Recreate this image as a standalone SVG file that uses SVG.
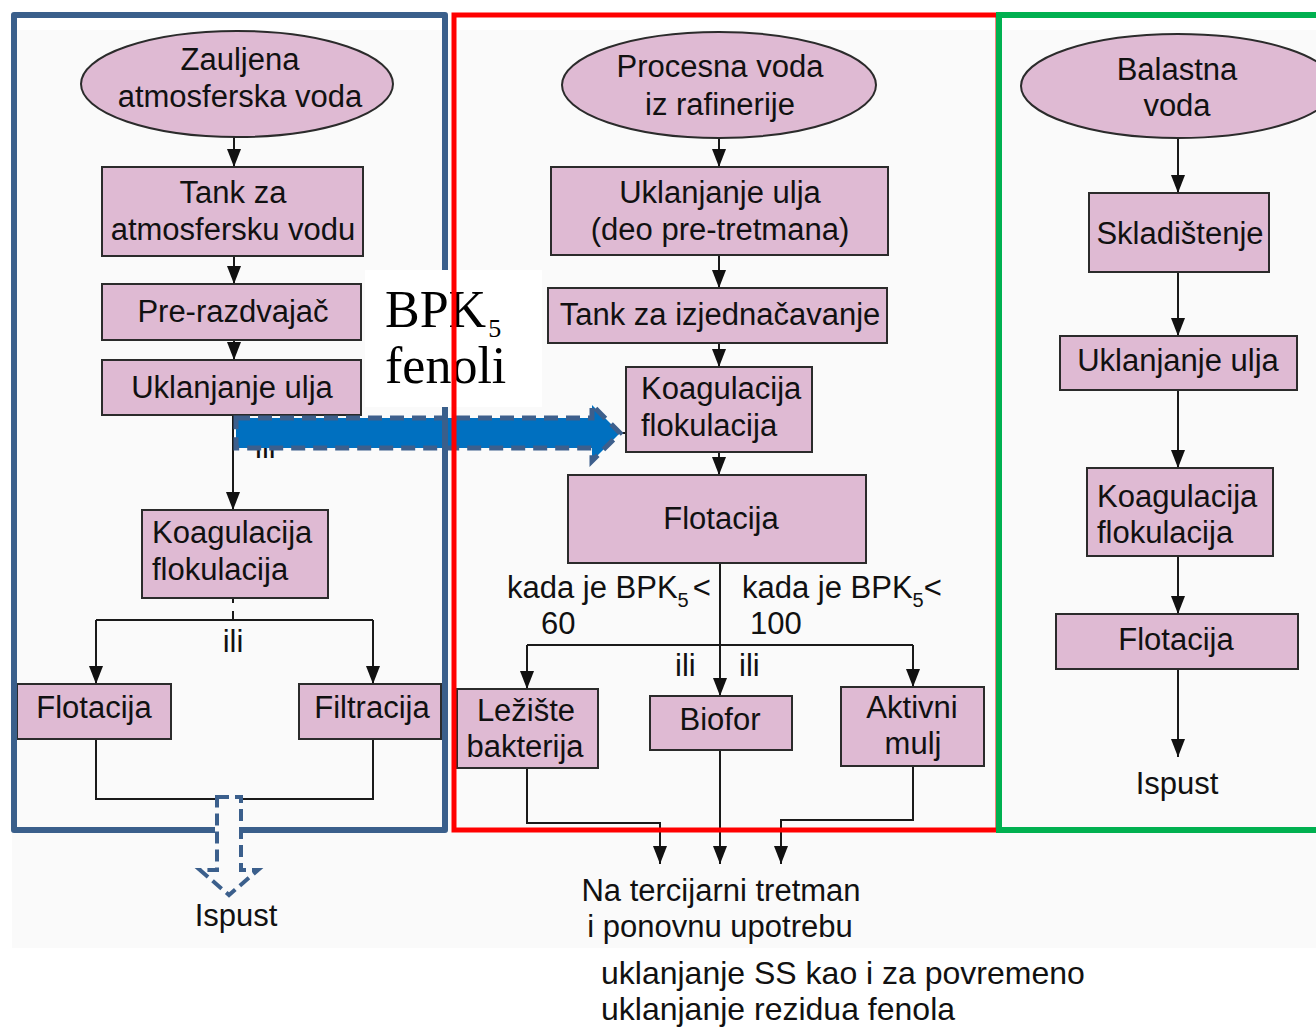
<svg xmlns="http://www.w3.org/2000/svg" width="1316" height="1029" viewBox="0 0 1316 1029">
  <defs>
    <marker id="arr" viewBox="0 0 18 14" markerWidth="18" markerHeight="14" refX="18" refY="7" orient="auto" markerUnits="userSpaceOnUse">
      <path d="M0,0 L18,7 L0,14 Z" fill="#111"/>
    </marker>
  </defs>
  <style>
    text { font-family: "Liberation Sans", Arial, sans-serif; font-size: 31px; fill: #111; }
    .c { text-anchor: middle; }
    .node { fill: #dfbad3; stroke: #2b2b2b; stroke-width: 2; }
    .wire { fill: none; stroke: #1a1a1a; stroke-width: 2; }
    .flow { fill: none; stroke: #1a1a1a; stroke-width: 2; marker-end: url(#arr); }
    .sub { font-size: 20px; }
    .serif { font-family: "Liberation Serif", "Times New Roman", serif; font-size: 52px; fill: #000; }
    .note { font-size: 32px; }
  </style>

  <!-- page background -->
  <rect x="0" y="0" width="1316" height="1029" fill="#ffffff"/>
  <rect x="12" y="30" width="1304" height="918" fill="#fafafa"/>

  <!-- connectors -->
  <g id="connectors">
    <!-- left column -->
    <path class="flow" d="M234,137 V167"/>
    <path class="flow" d="M234,256 V284"/>
    <path class="flow" d="M234,340 V360"/>
    <path class="flow" d="M233,415 V510"/>
    <path class="wire" d="M236,433 H626"/>
    <path class="wire" d="M233,598 V603 M233,611 V620"/>
    <path class="wire" d="M96,620 H373"/>
    <path class="flow" d="M96,620 V684"/>
    <path class="flow" d="M373,620 V684"/>
    <path class="wire" d="M96,739 V799 H373 V739"/>
    <!-- middle column -->
    <path class="flow" d="M719,138 V167"/>
    <path class="flow" d="M719,255 V288"/>
    <path class="flow" d="M719,343 V367"/>
    <path class="flow" d="M719,452 V475"/>
    <path class="flow" d="M720,563 V696"/>
    <path class="wire" d="M527,645 H913"/>
    <path class="flow" d="M527,645 V689"/>
    <path class="flow" d="M913,645 V687"/>
    <path class="flow" d="M527,768 V823 H660 V864"/>
    <path class="flow" d="M720,750 V864"/>
    <path class="flow" d="M913,766 V820 H781 V864"/>
    <!-- right column -->
    <path class="flow" d="M1178,138 V193"/>
    <path class="flow" d="M1178,272 V336"/>
    <path class="flow" d="M1178,390 V468"/>
    <path class="flow" d="M1178,556 V614"/>
    <path class="flow" d="M1178,669 V757"/>
  </g>

  <!-- left column: oily storm water -->
  <g id="n-zauljena">
    <ellipse class="node" cx="237" cy="84" rx="156" ry="53"/>
    <text class="c" x="240" y="70">Zauljena</text>
    <text class="c" x="240" y="107">atmosferska voda</text>
  </g>
  <g id="n-tank-atm">
    <rect class="node" x="102" y="167" width="261" height="89"/>
    <text class="c" x="233" y="203">Tank za</text>
    <text class="c" x="233" y="240">atmosfersku vodu</text>
  </g>
  <g id="n-prerazdvajac">
    <rect class="node" x="102" y="284" width="259" height="56"/>
    <text class="c" x="233" y="322">Pre-razdvajač</text>
  </g>
  <g id="n-uklanjanje-l">
    <rect class="node" x="102" y="360" width="259" height="55"/>
    <text class="c" x="232" y="398">Uklanjanje ulja</text>
  </g>
  <text x="255" y="458">ili</text>
  <g id="n-koag-l">
    <rect class="node" x="142" y="510" width="186" height="88"/>
    <text x="152" y="543">Koagulacija</text>
    <text x="152" y="580">flokulacija</text>
  </g>
  <text class="c" x="233" y="652">ili</text>
  <g id="n-flotacija-l">
    <rect class="node" x="17" y="684" width="154" height="55"/>
    <text class="c" x="94" y="718">Flotacija</text>
  </g>
  <g id="n-filtracija">
    <rect class="node" x="299" y="684" width="142" height="55"/>
    <text class="c" x="372" y="718">Filtracija</text>
  </g>
  <g id="n-ispust-l">
    <path d="M217,797 L241,797 L241,870 L258,870 L229,895 L200,870 L217,870 Z" fill="#fafafa" stroke="#3b5f8c" stroke-width="4" stroke-dasharray="12 6"/>
    <text class="c" x="236" y="926">Ispust</text>
  </g>

  <!-- middle column: refinery process water -->
  <g id="n-procesna">
    <ellipse class="node" cx="719" cy="85" rx="157" ry="53"/>
    <text class="c" x="720" y="77">Procesna voda</text>
    <text class="c" x="720" y="115">iz rafinerije</text>
  </g>
  <g id="n-uklanjanje-m">
    <rect class="node" x="551" y="167" width="337" height="88"/>
    <text class="c" x="720" y="203">Uklanjanje ulja</text>
    <text class="c" x="720" y="240">(deo pre-tretmana)</text>
  </g>
  <g id="n-tank-izj">
    <rect class="node" x="548" y="288" width="339" height="55"/>
    <text class="c" x="720" y="325">Tank za izjednačavanje</text>
  </g>
  <g id="n-koag-m">
    <rect class="node" x="626" y="367" width="186" height="85"/>
    <text x="641" y="399">Koagulacija</text>
    <text x="641" y="436">flokulacija</text>
  </g>
  <g id="n-flotacija-m">
    <rect class="node" x="568" y="475" width="298" height="88"/>
    <text class="c" x="721" y="529">Flotacija</text>
  </g>
  <g id="labels-bpk">
    <text x="507" y="598">kada je BPK<tspan class="sub" dy="9">5</tspan><tspan dx="4" dy="-9">&lt;</tspan></text>
    <text x="541" y="634">60</text>
    <text x="742" y="598">kada je BPK<tspan class="sub" dy="9">5</tspan><tspan dy="-9">&lt;</tspan></text>
    <text x="750" y="634">100</text>
    <text x="675" y="676">ili</text>
    <text x="739" y="676">ili</text>
  </g>
  <g id="n-leziste">
    <rect class="node" x="457" y="689" width="141" height="79"/>
    <text class="c" x="526" y="721">Ležište</text>
    <text class="c" x="525" y="757">bakterija</text>
  </g>
  <g id="n-biofor">
    <rect class="node" x="650" y="696" width="142" height="54"/>
    <text class="c" x="720" y="730">Biofor</text>
  </g>
  <g id="n-aktivni">
    <rect class="node" x="841" y="687" width="143" height="79"/>
    <text class="c" x="912" y="718">Aktivni</text>
    <text class="c" x="913" y="754">mulj</text>
  </g>
  <g id="n-tercijarni">
    <text class="c" x="721" y="901">Na tercijarni tretman</text>
    <text class="c" x="720" y="937">i ponovnu upotrebu</text>
  </g>

  <!-- right column: ballast water -->
  <g id="n-balastna">
    <ellipse class="node" cx="1178" cy="86" rx="157" ry="52"/>
    <text class="c" x="1177" y="80">Balastna</text>
    <text class="c" x="1177" y="116">voda</text>
  </g>
  <g id="n-skladistenje">
    <rect class="node" x="1089" y="193" width="180" height="79"/>
    <text class="c" x="1180" y="244">Skladištenje</text>
  </g>
  <g id="n-uklanjanje-r">
    <rect class="node" x="1060" y="336" width="237" height="54"/>
    <text class="c" x="1178" y="371">Uklanjanje ulja</text>
  </g>
  <g id="n-koag-r">
    <rect class="node" x="1087" y="468" width="186" height="88"/>
    <text x="1097" y="507">Koagulacija</text>
    <text x="1097" y="543">flokulacija</text>
  </g>
  <g id="n-flotacija-r">
    <rect class="node" x="1056" y="614" width="242" height="55"/>
    <text class="c" x="1176" y="650">Flotacija</text>
  </g>
  <text class="c" x="1177" y="794">Ispust</text>

  <!-- BOD5 / phenol transfer arrow -->
  <g id="transfer">
    <path d="M236,418 L592,418 L592,405 L620,433 L592,461 L592,448 L236,448 Z" fill="#0070c0" stroke="#3d5f8c" stroke-width="5" stroke-dasharray="14 8"/>
  </g>

  <!-- section frames -->
  <path d="M215,830 L14,830 L14,15 L445,15 L445,830 L243,830" fill="none" stroke="#3a5f8b" stroke-width="6" stroke-linejoin="round"/>

  <g id="note-bpk">
    <rect x="365" y="270" width="177" height="137" fill="#ffffff"/>
    <text class="serif" x="385" y="327">BPK<tspan dx="2" dy="10" style="font-size:26px">5</tspan></text>
    <text class="serif" x="385" y="383">fenoli</text>
  </g>

  <rect x="454" y="15" width="544" height="815" fill="none" stroke="#ff0000" stroke-width="5"/>
  <rect x="999" y="15" width="330" height="815" fill="none" stroke="#00b050" stroke-width="6"/>

  <!-- footnote -->
  <text class="note" x="601" y="984">uklanjanje SS kao i za povremeno</text>
  <text class="note" x="601" y="1020">uklanjanje rezidua fenola</text>
</svg>
